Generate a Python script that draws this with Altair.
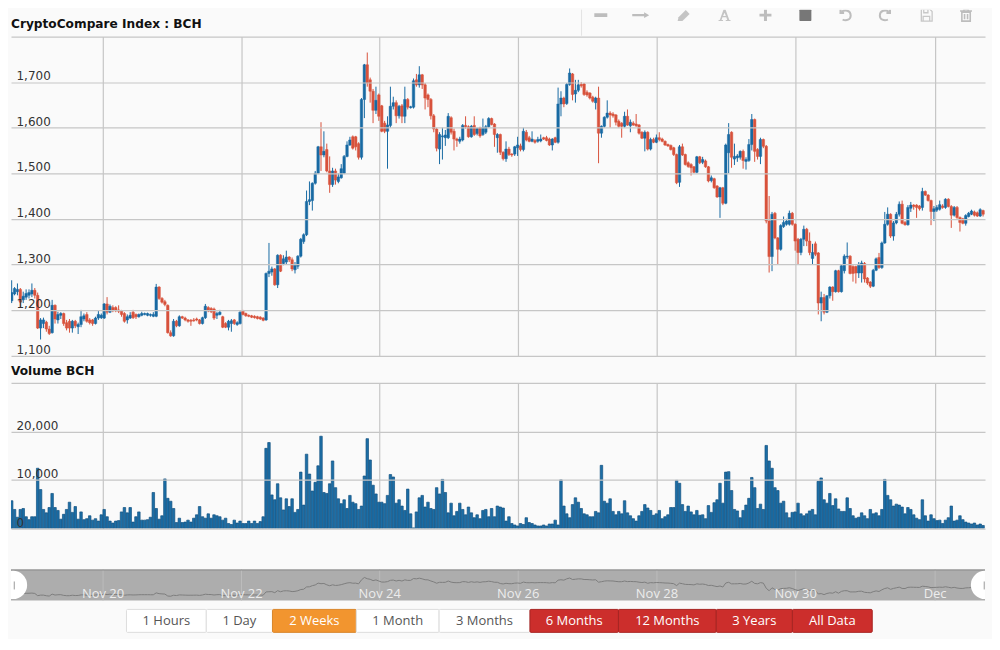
import re
import altair as alt
import pandas as pd

# (open, high, low, close) per hour
candles_nov18 = [
 (1220,1265,1215,1238),(1235,1250,1232,1247),(1240,1258,1232,1245),(1245,1248,1205,1217),(1222,1240,1215,1230),
 (1228,1245,1222,1236),(1232,1245,1225,1238),(1235,1258,1228,1243),(1243,1248,1225,1232),(1232,1238,1158,1160),
 (1160,1182,1135,1178),(1170,1183,1160,1178),(1173,1176,1152,1158),(1158,1165,1145,1148),(1150,1222,1148,1210),
 (1210,1212,1170,1180),(1178,1196,1170,1190),(1188,1195,1180,1192),(1192,1194,1165,1170),(1172,1178,1155,1160),
 (1175,1180,1150,1160),(1160,1178,1150,1175),(1175,1178,1160,1165),(1163,1172,1147,1168),(1168,1200,1162,1185),
 (1180,1192,1175,1187),(1190,1195,1172,1175),(1178,1182,1168,1172),(1178,1180,1165,1170),(1170,1185,1168,1182),
 (1182,1198,1178,1190),(1183,1192,1180,1188)]
candles_nov20 = [
 (1182,1215,1180,1213),(1213,1228,1190,1195),(1195,1212,1193,1208),(1205,1210,1195,1198),(1205,1208,1195,1198),
 (1200,1210,1193,1197),(1198,1200,1185,1190),(1192,1195,1172,1175),(1178,1190,1170,1185),(1182,1195,1180,1188),
 (1195,1200,1180,1183),(1190,1192,1180,1185),(1185,1192,1183,1190),(1188,1196,1186,1192),(1190,1194,1188,1192),
 (1188,1194,1186,1192),(1188,1192,1185,1190),(1186,1195,1184,1190),(1186,1257,1184,1250),(1250,1252,1222,1225),
 (1225,1228,1214,1217),(1218,1222,1208,1212),(1210,1212,1148,1150),(1150,1155,1141,1143),(1143,1180,1141,1175),
 (1175,1178,1162,1165),(1165,1188,1163,1185),(1185,1187,1180,1182),(1182,1185,1175,1178),(1178,1180,1172,1175),
 (1177,1180,1165,1175),(1178,1182,1174,1176),(1180,1183,1175,1178),(1178,1180,1168,1170),(1170,1185,1168,1183),
 (1183,1213,1180,1208),(1205,1208,1195,1198),(1203,1206,1193,1196),(1202,1205,1178,1182),(1188,1196,1180,1192),
 (1190,1200,1188,1195),(1185,1187,1160,1162),(1170,1173,1160,1162),(1162,1178,1155,1175),(1170,1180,1152,1176),
 (1178,1180,1167,1170),(1168,1175,1165,1172),(1170,1197,1168,1195)]
candles_nov22 = [
 (1197,1200,1188,1190),(1192,1194,1185,1187),(1188,1190,1184,1186),(1187,1189,1182,1184),(1186,1188,1181,1183),
 (1185,1187,1179,1181),(1184,1186,1178,1180),(1182,1184,1175,1177),(1178,1282,1176,1280),(1280,1347,1272,1285),
 (1283,1295,1275,1290),(1290,1292,1253,1255),(1255,1322,1248,1320),(1320,1322,1283,1285),(1302,1320,1298,1312),
 (1305,1330,1300,1316),(1316,1318,1305,1310),(1310,1315,1285,1290),(1288,1305,1280,1298),(1296,1320,1290,1318),
 (1318,1358,1315,1355),(1350,1368,1345,1365),(1365,1462,1362,1438),(1438,1482,1430,1442),(1440,1480,1418,1478),
 (1478,1505,1475,1500),(1500,1560,1498,1558),(1558,1612,1505,1540),(1540,1592,1535,1548),(1552,1565,1502,1505),
 (1505,1537,1457,1475),(1475,1512,1470,1505),(1505,1510,1475,1485),(1482,1500,1478,1492),(1490,1520,1488,1510),
 (1500,1540,1498,1537),(1537,1570,1535,1562),(1562,1580,1560,1573),(1580,1583,1552,1555),(1580,1582,1550,1558),
 (1565,1568,1530,1535),(1535,1665,1530,1662),(1662,1740,1621,1738),(1738,1765,1690,1698),(1705,1710,1655,1680),
 (1680,1685,1610,1638),(1638,1690,1630,1660),(1672,1675,1615,1625)]
candles_nov24 = [
 (1648,1650,1590,1592),(1610,1615,1588,1592),(1592,1625,1510,1606),(1605,1690,1600,1647),(1647,1668,1640,1655),
 (1655,1660,1610,1626),(1626,1650,1620,1647),(1648,1652,1610,1625),(1625,1690,1610,1662),(1662,1665,1640,1645),
 (1644,1648,1642,1646),(1645,1708,1642,1703),(1705,1718,1690,1694),(1694,1735,1688,1716),(1716,1718,1685,1694),
 (1694,1698,1640,1665),(1672,1675,1645,1662),(1662,1665,1618,1626),(1626,1630,1590,1597),(1597,1600,1548,1555),
 (1553,1590,1520,1585),(1580,1600,1530,1582),(1578,1595,1560,1584),(1578,1632,1575,1625),(1622,1625,1585,1590),
 (1592,1598,1550,1575),(1575,1578,1558,1572),(1570,1580,1565,1575),(1573,1608,1570,1605),(1605,1625,1598,1602),
 (1602,1605,1578,1580),(1580,1606,1578,1603),(1605,1625,1582,1585),(1587,1600,1583,1598),(1600,1602,1578,1582),
 (1585,1620,1582,1600),(1590,1606,1586,1602),(1602,1623,1600,1620),(1620,1622,1605,1607),(1608,1610,1558,1585),
 (1578,1588,1545,1585),(1585,1587,1540,1546),(1546,1548,1528,1532),(1532,1570,1525,1553),(1553,1558,1538,1541),
 (1542,1544,1536,1540),(1542,1560,1538,1558),(1556,1580,1538,1562)]
candles_nov26 = [
 (1560,1565,1548,1552),(1552,1600,1548,1592),(1590,1595,1570,1573),(1578,1582,1568,1570),(1570,1592,1568,1575),
 (1572,1575,1565,1568),(1570,1580,1567,1574),(1571,1585,1568,1575),(1578,1580,1573,1575),(1578,1582,1570,1572),
 (1575,1578,1560,1562),(1562,1577,1550,1575),(1578,1580,1566,1568),(1568,1688,1565,1652),(1652,1680,1625,1665),
 (1665,1668,1645,1652),(1653,1698,1650,1695),(1695,1730,1692,1720),(1718,1720,1660,1673),(1674,1705,1655,1682),
 (1682,1705,1678,1694),(1695,1700,1688,1692),(1696,1698,1670,1673),(1678,1682,1668,1672),(1676,1678,1662,1665),
 (1667,1670,1655,1658),(1655,1668,1640,1665),(1665,1690,1522,1588),(1588,1605,1578,1603),(1603,1625,1600,1623),
 (1623,1660,1620,1632),(1632,1636,1600,1628),(1630,1634,1622,1626),(1628,1630,1605,1612),(1614,1618,1600,1603),
 (1610,1612,1578,1603),(1603,1635,1600,1625),(1625,1640,1604,1606),(1604,1618,1590,1612),(1610,1614,1604,1606),
 (1608,1630,1602,1604),(1606,1608,1585,1588),(1590,1592,1575,1577),(1577,1594,1548,1590),(1590,1592,1550,1553),
 (1553,1578,1550,1574),(1574,1578,1566,1568),(1568,1585,1566,1578)]
candles_nov28 = [
 (1578,1590,1570,1574),(1575,1578,1568,1570),(1570,1572,1560,1562),(1563,1565,1558,1560),(1561,1563,1550,1552),
 (1556,1558,1538,1541),(1541,1543,1476,1479),(1480,1562,1470,1558),(1558,1565,1538,1540),(1541,1543,1517,1519),
 (1523,1526,1512,1515),(1519,1522,1495,1512),(1514,1516,1500,1502),(1502,1538,1500,1536),(1536,1538,1520,1523),
 (1524,1536,1520,1530),(1527,1530,1512,1514),(1514,1516,1480,1483),(1484,1495,1480,1490),(1488,1490,1466,1468),
 (1472,1474,1446,1448),(1448,1470,1402,1468),(1468,1470,1430,1434),(1434,1565,1432,1562),(1545,1610,1500,1585),
 (1590,1592,1512,1535),(1531,1565,1518,1537),(1534,1542,1525,1538),(1535,1550,1530,1548),(1548,1552,1510,1528),
 (1526,1535,1508,1530),(1528,1575,1525,1563),(1563,1630,1550,1618),(1618,1620,1525,1548),(1552,1555,1530,1537),
 (1537,1578,1520,1574),(1574,1576,1555,1559),(1559,1562,1390,1395),(1395,1450,1282,1317),(1317,1415,1285,1410),
 (1412,1415,1355,1358),(1358,1360,1300,1333),(1333,1388,1330,1385),(1383,1405,1380,1392),(1388,1400,1385,1395),
 (1388,1418,1385,1412),(1412,1415,1385,1388)]
candles_nov30 = [
 (1388,1390,1330,1351),(1355,1358,1300,1326),(1326,1358,1320,1355),(1355,1385,1340,1377),(1377,1380,1340,1351),
 (1351,1370,1320,1326),(1313,1345,1300,1326),(1345,1350,1318,1322),(1325,1327,1190,1215),(1215,1240,1175,1227),
 (1227,1235,1190,1195),(1195,1232,1193,1231),(1231,1252,1225,1250),(1250,1252,1220,1240),(1240,1288,1238,1286),
 (1286,1288,1238,1240),(1240,1300,1238,1297),(1286,1322,1280,1318),(1316,1348,1312,1318),(1318,1320,1278,1280),
 (1295,1298,1262,1280),(1295,1297,1258,1281),(1281,1305,1270,1300),(1281,1308,1260,1303),(1302,1305,1260,1268),
 (1270,1272,1255,1259),(1261,1263,1248,1252),(1252,1290,1250,1287),(1287,1315,1285,1312),(1315,1325,1290,1293),
 (1293,1350,1290,1347),(1347,1415,1345,1388),(1388,1425,1385,1410),(1410,1412,1358,1362),(1362,1395,1352,1391),
 (1391,1415,1388,1410),(1410,1438,1405,1432),(1432,1440,1388,1390),(1392,1395,1385,1387),(1387,1430,1385,1425),
 (1423,1437,1415,1430),(1430,1432,1420,1427),(1430,1432,1402,1425),(1428,1430,1418,1422),(1425,1468,1418,1460),
 (1460,1462,1450,1452),(1452,1454,1438,1440),(1440,1442,1386,1416)]
candles_dec = [
 (1416,1428,1395,1422),(1419,1430,1415,1425),(1421,1440,1418,1431),(1428,1432,1422,1425),(1425,1445,1422,1443),
 (1443,1445,1425,1427),(1427,1430,1380,1408),(1408,1428,1405,1425),(1425,1428,1400,1403),(1403,1405,1372,1392),
 (1400,1402,1388,1390),(1390,1410,1385,1407),(1405,1415,1403,1412),(1410,1420,1408,1417),(1415,1418,1405,1408),
 (1413,1416,1404,1406),(1406,1423,1404,1420),(1418,1420,1405,1410)]

# hourly volume in thousands
volume_a = [5.7,3.9,2.3,3.9,4.1,2.4,1.8,2.4,2.4,12.4,8.0,3.9,3.2,4.3,7.2,4.3,3.7,1.9,2.9,3.9,5.4,3.3,4.5,1.9,3.4,1.8,2.0,2.6,1.7,2.0,1.5,2.8,
 3.9,2.4,1.5,1.1,1.5,1.6,3.4,4.3,3.2,4.3,1.3,2.4,3.4,1.7,1.7,1.8,2.3,7.4,4.1,1.9,2.6,10.2,6.2,5.6,4.1,1.2,2.1,1.2,1.3,1.7,1.3,2.1,2.8,4.5,2.4,2.1,3.0,2.1,2.8,2.6,2.4,1.7,2.1,1.0,0.8,1.7,1.1,1.5,
 1.0,1.0,1.5,1.0,1.5,1.0,1.4,2.4,16.5,17.7,6.9,5.9,9.2,6.3,3.8,6.1,4.5,6.1,3.3,3.9,11.6,4.8,15.3,11.2,7.7,9.5,12.9,19.0,7.4,7.2,9.2]
volume_b = [13.9,8.4,6.1,5.1,5.9,4.1,6.8,5.4,5.1,3.9,4.6,10.8,18.5,14.1,8.9,7.1,5.4,5.4,5.1,6.8,11.1,10.6,5.2,5.9,4.6,3.7,8.1,3.0,0.1,3.4,6.3,6.8,4.4,5.4,4.1,3.9,8.4,7.1,10.1,7.4,3.2,5.2,2.6,3.5,5.2,3.9,2.8,4.4,3.2,2.2,2.8,2.0,3.7,3.9,2.4,4.1,2.4,4.6,4.4,4.2,1.5,2.4,1.0,0.7,0.5,1.0,0.8,2.2,1.2,1.0,0.7,0.5,0.5,0.7,0.5,0.9,0.9,1.7,0.7,10.0,4.6,3.0,2.2,4.9,6.3,5.4,4.1,3.0,2.8,2.4,2.4,3.5,3.2,13.0,5.6,5.2,6.1,3.5,2.8,3.5,3.0,5.7,3.2,2.6,2.0,1.5,2.6,3.5,4.9,4.2,3.7,2.7,3.0]
volume_c = [3.7,2.0,2.4,2.8,4.3,4.3,9.9,9.3,4.9,3.5,4.6,3.4,2.8,3.7,2.7,2.8,2.0,4.7,3.3,5.3,5.9,9.3,5.2,11.6,11.7,7.8,3.9,3.6,2.2,3.7,4.8,6.2,10.5,8.4,4.1,5.0,3.9,17.1,13.9,12.4,8.4,7.8,5.2,5.6,3.2,2.2,3.3,3.4,5.2,3.0,2.6,3.0,3.6,3.9,2.8,9.7,10.4,5.9,5.2,7.2,4.7,6.1,4.0,3.5,3.5,6.3,4.1,2.6,2.1,2.3,3.2,2.6,2.0,3.9,3.0,3.2,2.6,3.9,10.1,6.8,5.9,4.6,5.0,4.8,4.4,3.0,4.3,3.9,2.8,2.1,1.8,5.9,2.6,1.5,2.8,2.0,1.6,1.7,1.0,1.7,2.2,4.6,1.5,1.7,2.6,1.8,1.3,1.1,0.9,1.1,0.7,0.9,0.6]

price_ticks = [1100, 1200, 1300, 1400, 1500, 1600, 1700, 1800]
volume_ticks = [0, 10000, 20000, 30000]
day_positions = [31.6, 79.5, 127.3, 175.2, 223.2, 271.2, 319.4]
day_labels = ["Nov 20", "Nov 22", "Nov 24", "Nov 26", "Nov 28", "Nov 30", "Dec"]
button_labels = ["1 Hours", "1 Day", "2 Weeks", "1 Month", "3 Months", "6 Months", "12 Months", "3 Years", "All Data"]
button_edges = [115.7, 195.7, 262, 346, 429, 520, 608.7, 706.7, 783, 863]
button_fill = ["#ffffff", "#ffffff", "#f2952f", "#ffffff", "#ffffff", "#cc2e2c", "#cc2e2c", "#cc2e2c", "#cc2e2c"]
button_text = ["#555555", "#555555", "#ffffff", "#555555", "#555555", "#ffffff", "#ffffff", "#ffffff", "#ffffff"]

candles = candles_nov18 + candles_nov20 + candles_nov22 + candles_nov24 + candles_nov26 + candles_nov28 + candles_nov30 + candles_dec
volumes = volume_a + volume_b + volume_c
n = min(len(candles), len(volumes))
df = pd.DataFrame({
    "i": range(n),
    "open": [c[0] for c in candles[:n]],
    "high": [max(c) for c in candles[:n]],
    "low": [min(c) for c in candles[:n]],
    "close": [c[3] for c in candles[:n]],
    "vol": [v * 1000 for v in volumes[:n]],
})
df["dir"] = ["up" if c >= o else "down" for o, c in zip(df["open"], df["close"])]

W = 976
BG = "#fafafa"
GRID = "#c6c6c6"
XDOM = [-0.23, 336.67]
xscale = alt.Scale(domain=XDOM, nice=False, zero=False, padding=0)
pxscale = alt.Scale(domain=[0, W], nice=False, zero=False, padding=0)
xaxis = alt.Axis(values=day_positions, grid=True, gridColor=GRID, gridWidth=1.2, labels=False, ticks=False, domain=False, title=None)
colors = alt.Color("dir:N", scale=alt.Scale(domain=["up", "down"], range=["#186aa3", "#d8523c"]), legend=None)


def yaxis(ticks, top):
    return alt.Axis(values=ticks, grid=True, gridColor=GRID, gridWidth=1.2, domain=False, ticks=False, title=None,
                    labelAlign="left", labelBaseline="alphabetic", labelPadding=-5, labelOffset=-2.3,
                    labelFont="DejaVu Sans", labelFontSize=12, labelColor="#333333", labelOverlap=False,
                    labelFlush=False, labelBound=False, zindex=1,
                    labelExpr=f"datum.value == {top} ? '' : format(datum.value, ',')")


one = pd.DataFrame({"k": [0]})


def heading(text, h, yy):
    return alt.Chart(one).mark_text(align="left", baseline="middle", font="DejaVu Sans", fontWeight="bold",
                                    fontSize=12.2, color="#111111").encode(
        x=alt.value(0), y=alt.value(yy), text=alt.value(text)).properties(width=W, height=h)


def grow(path, k):
    return re.sub(r"-?\d+(\.\d+)?", lambda m: f"{float(m.group(0)) * k:.3f}", path)


# toolbar: every glyph has a small nominal size and a path scaled to its drawn width
ICON_SIZE = 16
TOOLH = 26.2
icons = [
    (591, "M-1,-0.3H1V0.3H-1Z", True, 6.5, "#bdbdbd", 0),
    (631, "M-1,-0.12H0.4V-0.35L1,0L0.4,0.35V0.12H-1Z", True, 8.5, "#bdbdbd", 0),
    (674, "M-1,1L-0.85,0.35L0.35,-0.85L1,-0.2L-0.2,1Z", True, 6, "#c4c4c4", 0),
    (715, "M-0.15,-1H0.15L0.8,0.8H1V1H0.2V0.8H0.45L0.3,0.35H-0.35L-0.5,0.8H-0.25V1H-1V0.8H-0.8ZM0,-0.4L-0.25,0.15H0.22Z", True, 6, "#c4c4c4", 0),
    (756, "M-0.25,-1H0.25V-0.25H1V0.25H0.25V1H-0.25V0.25H-1V-0.25H-0.25Z", True, 6, "#bdbdbd", 0),
    (796, "M-0.8,-1H0.8Q1,-1 1,-0.8V0.8Q1,1 0.8,1H-0.8Q-1,1 -1,0.8V-0.8Q-1,-1 -0.8,-1Z", True, 6, "#777777", 0),
    (836, "M-0.6,-0.55C-0.1,-1 0.9,-0.8 0.9,0.05C0.9,0.75 0.2,1 -0.45,0.75M-0.8,-0.95V-0.35H-0.2", False, 6, "#bdbdbd", 2),
    (876, "M0.6,-0.55C0.1,-1 -0.9,-0.8 -0.9,0.05C-0.9,0.75 -0.2,1 0.45,0.75M0.8,-0.95V-0.35H0.2", False, 6, "#bdbdbd", 2),
    (917, "M-0.8,-1H0.6L1,-0.6V1H-0.8ZM-0.4,-1V-0.4H0.3V-1M-0.5,1V0.2H0.6V1", False, 6, "#c8c8c8", 1.3),
    (957, "M-0.7,-0.5H0.7V1H-0.7ZM-1,-0.7H1M-0.35,-0.7V-1H0.35V-0.7M-0.25,-0.2V0.7M0.25,-0.2V0.7", False, 6, "#bdbdbd", 1.6),
]
tool_layers = [heading("CryptoCompare Index : BCH", TOOLH, 14.2)]
tool_layers.append(alt.Chart(pd.DataFrame({"x": [571.7]})).mark_rule(color="#e4e4e4", strokeWidth=1).encode(
    x=alt.X("x:Q", scale=pxscale, axis=None), y=alt.value(0), y2=alt.value(TOOLH)))
for ix, path, filled, half, color, sw in icons:
    tool_layers.append(alt.Chart(pd.DataFrame({"x": [ix]})).mark_point(
        shape=grow(path, half / 2), filled=filled, size=ICON_SIZE, color=color, strokeWidth=sw, opacity=1, clip=True).encode(
        x=alt.X("x:Q", scale=pxscale, axis=None), y=alt.value(5.5)))
toolbar = alt.layer(*tool_layers).properties(width=W, height=TOOLH)

# price
pscale = alt.Scale(domain=[1100, 1800], nice=False, zero=False, padding=0)
paxis = yaxis(price_ticks, 1800)
wicks = alt.Chart(df).mark_rule(strokeWidth=1, clip=True).encode(
    x=alt.X("i:Q", scale=xscale, axis=xaxis),
    y=alt.Y("low:Q", scale=pscale, axis=paxis),
    y2="high:Q", color=colors)
df2 = df.assign(lo=df[["open", "close"]].min(axis=1), hi=df[["open", "close"]].max(axis=1))
bodies = alt.Chart(df2).mark_bar(size=2.5, strokeWidth=0.5, clip=True).encode(
    x=alt.X("i:Q", scale=xscale, axis=xaxis),
    y=alt.Y("lo:Q", scale=pscale, axis=paxis),
    y2="hi:Q", color=colors, stroke=colors)
price = alt.layer(wicks, bodies).properties(width=W, height=319.5)

vhead = heading("Volume BCH", 26.7, 14.7)

# volume
vol = alt.Chart(df).mark_bar(size=2.5, orient="vertical", fill="#1c6ea6", stroke="#125080", strokeWidth=0.7, clip=True).encode(
    x=alt.X("i:Q", scale=xscale, axis=xaxis),
    y=alt.Y("vol:Q", stack=None, scale=alt.Scale(domain=[0, 30000], nice=False, padding=0), axis=yaxis(volume_ticks, 30000)),
).properties(width=W, height=145.8)

gap = alt.Chart(one).mark_text(text=" ").encode(x=alt.value(0), y=alt.value(0)).properties(width=W, height=40.5)

# navigator
navh = 31
nscale = alt.Scale(domain=[1010, 1990], nice=False, zero=False)
nav_bg = alt.Chart(one).mark_rect(color="#adadad").encode(
    x=alt.value(0), x2=alt.value(W), y=alt.value(0), y2=alt.value(navh))
day_df = pd.DataFrame({"x": day_positions, "t": day_labels})
nav_grid = alt.Chart(day_df).mark_rule(color="#bcbcbc", strokeWidth=1).encode(
    x=alt.X("x:Q", scale=xscale, axis=None), y=alt.value(0), y2=alt.value(navh))
nav_top = alt.Chart(one).mark_rule(color="#8c8c8c", strokeWidth=1).encode(
    x=alt.value(0), x2=alt.value(W), y=alt.value(0.5))
nav_line = alt.Chart(df).mark_line(color="#7d7d7d", strokeWidth=1).encode(
    x=alt.X("i:Q", scale=xscale, axis=None), y=alt.Y("close:Q", scale=nscale, axis=None))
nav_text = alt.Chart(day_df).mark_text(font="Open Sans", fontSize=13, color="#ececec", baseline="middle").encode(
    x=alt.X("x:Q", scale=xscale, axis=None), y=alt.value(24.3), text="t:N")
handles = alt.Chart(pd.DataFrame({"x": [0.46, 336.67]})).mark_point(
    shape="circle", filled=True, size=804, color="#ffffff", opacity=1, clip=True).encode(
    x=alt.X("x:Q", scale=xscale, axis=None), y=alt.value(15.5))
grips = alt.Chart(pd.DataFrame({"x": [0.9, 336.4]})).mark_rule(color="#999999", strokeWidth=1).encode(
    x=alt.X("x:Q", scale=xscale, axis=None), y=alt.value(12), y2=alt.value(20))
nav = alt.layer(nav_bg, nav_grid, nav_top, nav_line, nav_text, handles, grips).properties(width=W, height=navh)

# buttons
btn = pd.DataFrame({"t": button_labels, "a": button_edges[:-1], "b": button_edges[1:],
                    "f": button_fill, "c": button_text})
btn["m"] = (btn["a"] + btn["b"]) / 2
btn["s"] = ["#dddddd" if f == "#ffffff" else ("#d9862a" if f == "#f2952f" else "#a82523") for f in button_fill]
rects = alt.Chart(btn).mark_rect(strokeWidth=1, cornerRadius=1).encode(
    x=alt.X("a:Q", scale=pxscale, axis=None), x2="b:Q", y=alt.value(9), y2=alt.value(32),
    fill=alt.Fill("f:N", scale=None), stroke=alt.Stroke("s:N", scale=None))
labels = alt.Chart(btn).mark_text(font="Open Sans", fontSize=13, baseline="middle").encode(
    x=alt.X("m:Q", scale=pxscale, axis=None), y=alt.value(20.5), text="t:N", color=alt.Color("c:N", scale=None))
buttons = alt.layer(rects, labels).properties(width=W, height=38)

chart = alt.vconcat(toolbar, price, vhead, vol, gap, nav, buttons, spacing=0, bounds="flush").properties(
    padding={"left": 1, "top": 0, "right": 6, "bottom": 0}, background=BG
).resolve_scale(x="independent", y="independent").configure_view(stroke=None)

chart.save("out.html", embed_options={"renderer": "svg", "actions": False})
